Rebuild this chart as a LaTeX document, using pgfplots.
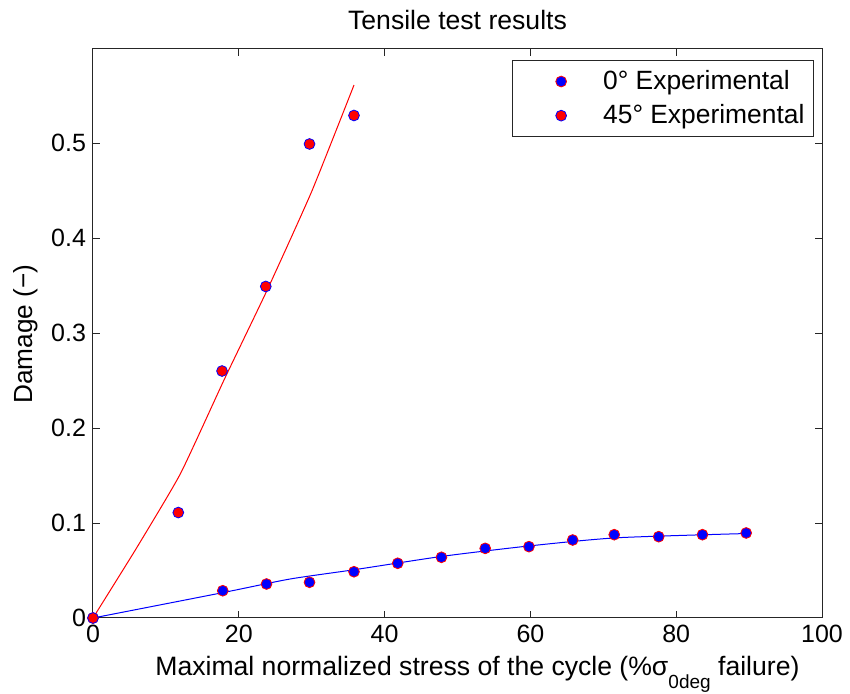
\documentclass[border=0pt]{standalone}
\usepackage{fontspec}
\setmainfont{Liberation Sans}
\usepackage{pgfplots}
\pgfplotsset{compat=1.18}

% fitted curves and measurements
\pgfplotstableread{
x y
0 0
6 0.074
12 0.152
18 0.251
24 0.347
30 0.449
35.8 0.561
}\fitfortyfive
\pgfplotstableread{
x y
0 0
18 0.027
27 0.041
36 0.051
48 0.065
60 0.076
72 0.0845
90 0.089
}\fitzero
\pgfplotstableread{
x y
0 0
17.8 0.0287
23.8 0.0358
29.7 0.0376
35.8 0.0487
41.8 0.0576
47.8 0.0639
53.8 0.0733
59.8 0.0751
65.8 0.0821
71.5 0.0877
77.6 0.0856
83.6 0.0877
89.6 0.0895
}\expzero
\pgfplotstableread{
x y
0 0
11.7 0.111
17.7 0.260
23.7 0.349
29.7 0.499
35.8 0.529
}\expfortyfive

\begin{document}
\begin{tikzpicture}
\useasboundingbox (-46.5pt,-38pt) rectangle (378.5pt,309pt);
\begin{axis}[
  scale only axis, width=364.5pt, height=284.5pt,
  xmin=0, xmax=100, ymin=0, ymax=0.599,
  xtick={0,20,40,60,80,100},
  ytick={0,0.1,0.2,0.3,0.4,0.5},
  scaled y ticks=false,
  tick align=inside, major tick length=3.5pt,
  axis line style={line width=0.5pt, black!85},
  tick style={line width=0.5pt, black!85},
  /pgf/number format/assume math mode=true,
  ticklabel style={font=\fontsize{12.5}{14}\selectfont},
  every axis title shift=0pt,
  title={Tensile test results},
  title style={at={(axis description cs:0.5,1.0334)}, anchor=base, inner sep=0pt, font=\fontsize{13.3}{15}\selectfont},
  xlabel={Maximal normalized stress of the cycle (\%σ\raisebox{-6.5pt}{\fontsize{9.5}{10}\selectfont 0deg} failure)},
  xlabel style={at={(axis description cs:0.085,-0.1002)}, anchor=base west, inner sep=0pt, font=\fontsize{13.3}{15}\selectfont},
  ylabel={Damage (−)},
  ylabel style={at={(axis description cs:-0.0823,0.499)}, anchor=base, inner sep=0pt, font=\fontsize{13.1}{15}\selectfont},
  legend cell align=left,
  legend style={at={(axis description cs:0.989,0.9807)}, anchor=north east,
    draw=black!85, line width=0.5pt, inner xsep=4.5pt, inner ysep=5pt,
    nodes={inner sep=0pt}, row sep=6pt,
    font=\fontsize{13.2}{15}\selectfont},
  legend image code/.code={\path[draw=none, fill=none] (-20pt,-1pt) rectangle (21pt,1pt); \draw[#1] plot coordinates {(0pt,0pt)};},
]
\addplot[red, line width=0.5pt, smooth, tension=0.3, forget plot] table {\fitfortyfive};
\addplot[blue, line width=0.5pt, smooth, tension=0.4, forget plot] table {\fitzero};
\addplot[only marks, mark=*, mark size=2.7pt, mark options={draw=red, fill=blue, line width=0.4pt}] table {\expzero};
\addplot[only marks, mark=*, mark size=2.7pt, mark options={draw=blue, fill=red, line width=0.4pt}] table {\expfortyfive};
\legend{0° Experimental, 45° Experimental}
\end{axis}
\end{tikzpicture}
\end{document}
